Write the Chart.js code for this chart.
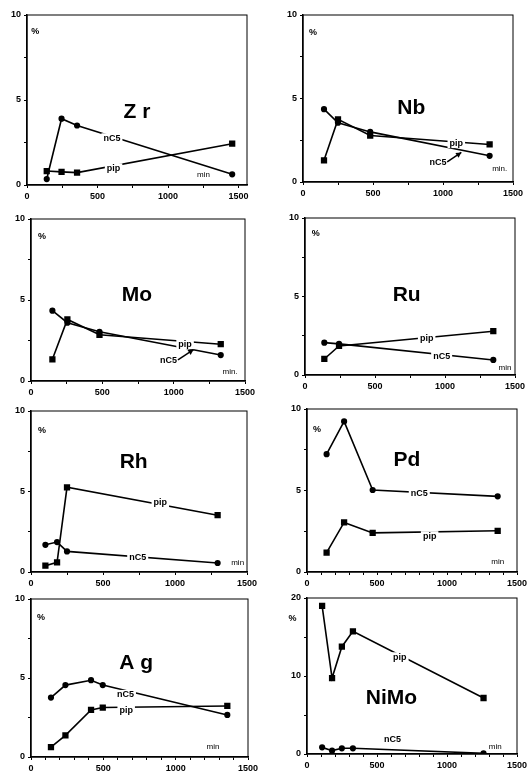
<!DOCTYPE html>
<html>
<head>
<meta charset="utf-8">
<script src="https://cdn.jsdelivr.net/npm/chart.js@4.4.1/dist/chart.umd.min.js"></script>
<style>
  body { margin: 0; background: #fff; width: 530px; height: 774px; position: relative; overflow: hidden; }
  .panel { position: absolute; }
</style>
</head>
<body>
<script>
// values: time in min, amount in %
const xTicks = [0, 500, 1000, 1500];
const yTicks = [0, 5, 10];
const yTicksNiMo = [0, 10, 20];

const zrTime = [140, 245, 355, 1455];
const zrNC5 = [0.35, 3.9, 3.5, 0.63];
const zrPip = [0.82, 0.77, 0.73, 2.43];

const nbTime = [150, 250, 480, 1333];
const nbNC5 = [4.36, 3.55, 3.0, 1.57];
const nbPip = [1.3, 3.75, 2.78, 2.25];

const moTime = [150, 255, 480, 1330];
const moNC5 = [4.34, 3.6, 3.04, 1.6];
const moPip = [1.34, 3.8, 2.85, 2.27];

const ruTime = [138, 243, 1345];
const ruNC5 = [2.06, 1.98, 0.96];
const ruPip = [1.02, 1.85, 2.79];

const rhTime = [100, 181, 250, 1296];
const rhNC5 = [1.69, 1.86, 1.28, 0.56];
const rhPip = [0.39, 0.6, 5.26, 3.53];

const pdTime = [140, 265, 469, 1362];
const pdNC5 = [7.23, 9.24, 5.03, 4.64];
const pdPip = [1.19, 3.04, 2.4, 2.53];

const agTime = [138, 238, 415, 496, 1357];
const agNC5 = [3.76, 4.55, 4.86, 4.55, 2.66];
const agPip = [0.63, 1.37, 2.98, 3.13, 3.23];

const nimoTime = [108, 179, 249, 328, 1261];
const nimoNC5 = [0.85, 0.43, 0.73, 0.73, 0.09];
const nimoPip = [19.0, 9.74, 13.76, 15.73, 7.18];

const FONT = '"Liberation Sans", Arial, sans-serif';
const fonts = {
    title: 'bold 21px ' + FONT,
    tag: 'bold 9px ' + FONT,
    pct: 'bold 9px ' + FONT,
    min: '8px ' + FONT
};

// frame + labels written inside each panel
const panelText = {
    id: 'panelText',
    afterDatasetsDraw(chart, args, opts) {
        const {ctx, chartArea: a, scales: {x, y}} = chart;
        ctx.save();
        ctx.strokeStyle = '#000';
        ctx.lineWidth = 1;
        ctx.strokeRect(a.left, a.top, a.width, a.height);
        (opts.items || []).forEach(it => {
            const px = x.getPixelForValue(it.x);
            const py = y.getPixelForValue(it.y);
            ctx.font = fonts[it.k];
            ctx.textAlign = 'center';
            ctx.textBaseline = 'middle';
            if (it.k === 'tag') {
                const w = ctx.measureText(it.t).width;
                ctx.fillStyle = '#fff';
                ctx.fillRect(px - w / 2 - 2, py - 5, w + 4, 10);
            }
            ctx.fillStyle = '#000';
            ctx.fillText(it.t, px, py);
            if (it.arrow) {
                const x1 = x.getPixelForValue(it.arrow[0]), y1 = y.getPixelForValue(it.arrow[1]);
                const x2 = x.getPixelForValue(it.arrow[2]), y2 = y.getPixelForValue(it.arrow[3]);
                const ang = Math.atan2(y2 - y1, x2 - x1);
                ctx.lineWidth = 1.5;
                ctx.beginPath();
                ctx.moveTo(x1, y1);
                ctx.lineTo(x2, y2);
                ctx.stroke();
                ctx.beginPath();
                ctx.moveTo(x2, y2);
                ctx.lineTo(x2 - 6 * Math.cos(ang - 0.5), y2 - 6 * Math.sin(ang - 0.5));
                ctx.lineTo(x2 - 6 * Math.cos(ang + 0.5), y2 - 6 * Math.sin(ang + 0.5));
                ctx.closePath();
                ctx.fill();
            }
        });
        ctx.restore();
    }
};

const panels = [
    {box: [27, 15, 247, 185], time: zrTime, nc5: zrNC5, pip: zrPip, xMax: 1560, xStep: 250, yMax: 10, yStep: 2.5, yLab: yTicks,
     items: [{t: 'Z r', x: 780, y: 4.3, k: 'title'}, {t: 'nC5', x: 602, y: 2.75, k: 'tag'}, {t: 'pip', x: 614, y: 0.98, k: 'tag'},
             {t: 'min', x: 1252, y: 0.59, k: 'min'}, {t: '%', x: 59, y: 9.0, k: 'pct'}]},
    {box: [303, 15, 513, 182], time: nbTime, nc5: nbNC5, pip: nbPip, xMax: 1500, xStep: 250, yMax: 10, yStep: 2.5, yLab: yTicks,
     items: [{t: 'Nb', x: 774, y: 4.42, k: 'title'}, {t: 'pip', x: 1095, y: 2.33, k: 'tag'},
             {t: 'nC5', x: 964, y: 1.18, k: 'tag', arrow: [1030, 1.2, 1131, 1.77]},
             {t: 'min.', x: 1405, y: 0.78, k: 'min'}, {t: '%', x: 71, y: 8.96, k: 'pct'}]},
    {box: [31, 219, 245, 381], time: moTime, nc5: moNC5, pip: moPip, xMax: 1500, xStep: 250, yMax: 10, yStep: 2.5, yLab: yTicks,
     items: [{t: 'Mo', x: 742, y: 5.3, k: 'title'}, {t: 'pip', x: 1080, y: 2.27, k: 'tag'},
             {t: 'nC5', x: 963, y: 1.24, k: 'tag', arrow: [1030, 1.3, 1139, 1.94]},
             {t: 'min.', x: 1395, y: 0.56, k: 'min'}, {t: '%', x: 77, y: 8.9, k: 'pct'}]},
    {box: [305, 218, 515, 375], time: ruTime, nc5: ruNC5, pip: ruPip, xMax: 1500, xStep: 250, yMax: 10, yStep: 2.5, yLab: yTicks,
     items: [{t: 'Ru', x: 726, y: 5.1, k: 'title'}, {t: 'pip', x: 869, y: 2.3, k: 'tag'}, {t: 'nC5', x: 976, y: 1.17, k: 'tag'},
             {t: 'min', x: 1429, y: 0.47, k: 'min'}, {t: '%', x: 76, y: 9.0, k: 'pct'}]},
    {box: [31, 411, 247, 572], time: rhTime, nc5: rhNC5, pip: rhPip, xMax: 1500, xStep: 250, yMax: 10, yStep: 2.5, yLab: yTicks,
     items: [{t: 'Rh', x: 713, y: 6.85, k: 'title'}, {t: 'pip', x: 898, y: 4.33, k: 'tag'}, {t: 'nC5', x: 741, y: 0.9, k: 'tag'},
             {t: 'min', x: 1435, y: 0.56, k: 'min'}, {t: '%', x: 76, y: 8.8, k: 'pct'}]},
    {box: [307, 409, 517, 572], time: pdTime, nc5: pdNC5, pip: pdPip, xMax: 1500, xStep: 100, yMax: 10, yStep: 2.5, yLab: yTicks,
     items: [{t: 'Pd', x: 714, y: 6.88, k: 'title'}, {t: 'nC5', x: 802, y: 4.83, k: 'tag'}, {t: 'pip', x: 876, y: 2.2, k: 'tag'},
             {t: 'min', x: 1362, y: 0.62, k: 'min'}, {t: '%', x: 71, y: 8.77, k: 'pct'}]},
    {box: [31, 599, 248, 757], time: agTime, nc5: agNC5, pip: agPip, xMax: 1500, xStep: 100, yMax: 10, yStep: 2.5, yLab: yTicks,
     items: [{t: 'A g', x: 727, y: 5.92, k: 'title'}, {t: 'nC5', x: 653, y: 3.93, k: 'tag'}, {t: 'pip', x: 658, y: 2.96, k: 'tag'},
             {t: 'min', x: 1258, y: 0.66, k: 'min'}, {t: '%', x: 69, y: 8.84, k: 'pct'}]},
    {box: [307, 598, 517, 754], time: nimoTime, nc5: nimoNC5, pip: nimoPip, xMax: 1500, xStep: 100, yMax: 20, yStep: 5, yLab: yTicksNiMo,
     items: [{t: 'NiMo', x: 603, y: 7.18, k: 'title'}, {t: 'pip', x: 663, y: 12.4, k: 'tag'}, {t: 'nC5', x: 610, y: 1.84, k: 'tag'},
             {t: 'min', x: 1344, y: 0.94, k: 'min'}, {t: '%', x: -103, y: 17.4, k: 'pct'}]}
];

const YW = 26, XH = 17, PT = 10, PR = 14;

panels.forEach(p => {
    const [L, T, R, B] = p.box;
    const div = document.createElement('div');
    div.className = 'panel';
    div.style.left = (L - YW) + 'px';
    div.style.top = (T - PT) + 'px';
    div.style.width = (R - L + YW + PR) + 'px';
    div.style.height = (B - T + PT + XH) + 'px';
    const canvas = document.createElement('canvas');
    div.appendChild(canvas);
    document.body.appendChild(div);

    const series = (vals) => p.time.map((t, i) => ({x: t, y: vals[i]}));

    // minor tick positions along each axis, labels only on the named ticks
    const xMarks = [];
    for (let v = 0; v <= 1500; v += p.xStep) xMarks.push({value: v});
    const yMarks = [];
    for (let v = 0; v <= p.yMax; v += p.yStep) yMarks.push({value: v});

    new Chart(canvas, {
        type: 'line',
        data: {
            datasets: [
                {
                    label: 'nC5',
                    data: series(p.nc5),
                    borderColor: '#000',
                    backgroundColor: '#000',
                    borderWidth: 1.6,
                    pointStyle: 'circle',
                    pointRadius: 2.3,
                    tension: 0
                },
                {
                    label: 'pip',
                    data: series(p.pip),
                    borderColor: '#000',
                    backgroundColor: '#000',
                    borderWidth: 1.6,
                    pointStyle: 'rect',
                    pointRadius: 3.3,
                    tension: 0
                }
            ]
        },
        options: {
            responsive: true,
            maintainAspectRatio: false,
            animation: false,
            layout: {padding: {left: 0, top: PT, right: PR, bottom: 0}},
            plugins: {
                legend: {display: false},
                tooltip: {enabled: false},
                panelText: {items: p.items}
            },
            scales: {
                x: {
                    type: 'linear',
                    min: 0,
                    max: p.xMax,
                    border: {color: '#000', width: 1.5},
                    grid: {drawOnChartArea: false, color: '#000', tickLength: 3},
                    afterBuildTicks: s => { s.ticks = xMarks.map(t => ({value: t.value})); },
                    ticks: {
                        autoSkip: false,
                        maxRotation: 0,
                        padding: 3,
                        color: '#000',
                        font: {family: FONT, size: 9, weight: 'bold'},
                        callback: v => xTicks.includes(v) ? v : ''
                    },
                    afterFit: s => { s.height = XH; s.paddingLeft = 0; s.paddingRight = 0; }
                },
                y: {
                    min: 0,
                    max: p.yMax,
                    border: {color: '#000', width: 1.5},
                    grid: {drawOnChartArea: false, color: '#000', tickLength: 3},
                    afterBuildTicks: s => { s.ticks = yMarks.map(t => ({value: t.value})); },
                    ticks: {
                        autoSkip: false,
                        padding: 3,
                        color: '#000',
                        font: {family: FONT, size: 9, weight: 'bold'},
                        callback: v => p.yLab.includes(v) ? v : ''
                    },
                    afterFit: s => { s.width = YW; s.paddingTop = 0; s.paddingBottom = 0; }
                }
            }
        },
        plugins: [panelText]
    });
});
</script>
</body>
</html>
